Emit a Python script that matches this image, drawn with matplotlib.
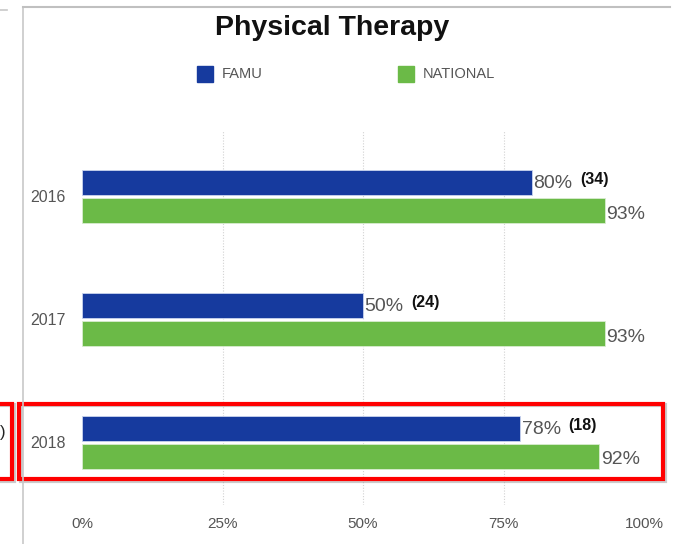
import numpy as np
import matplotlib
matplotlib.use("Agg")
import matplotlib.pyplot as plt
from matplotlib.patches import Rectangle
from matplotlib.lines import Line2D

years = ["2016", "2017", "2018"]
famu = [80, 50, 78]
famu_n = [34, 24, 18]
national = [93, 93, 92]
series = ["FAMU", "NATIONAL"]
xticks = [0, 25, 50, 75, 100]

BLUE = "#163a9e"
GREEN = "#6bba47"
GRAY = "#555555"

W, H = 679, 544
plt.rcParams['font.family'] = ['Liberation Sans', 'DejaVu Sans']
fig = plt.figure(figsize=(W / 100, H / 100), dpi=100)

def fx(px):
    return px / W

def fy(py):
    return 1 - py / H

# axes placed in pixel coords of the reference
ax = fig.add_axes([fx(82), fy(505), fx(644) - fx(82), fy(130) - fy(505)])

y = np.arange(len(years))
h = 0.203
off = 0.114
ax.barh(y - off, famu, height=h, color=BLUE, edgecolor="#c9d3ee", linewidth=0.6, zorder=3)
ax.barh(y + off, national, height=h, color=GREEN, edgecolor="#d8ecd0", linewidth=0.6, zorder=3)

for i in range(len(years)):
    ax.text(famu[i] + 0.3, y[i] - off + 0.01, f"{famu[i]}%", va="center", ha="left",
            fontsize=14, color=GRAY)
    ax.text(famu[i] + 8.6, y[i] - off - 0.02, f"({famu_n[i]})", va="center", ha="left",
            fontsize=11.5, fontweight="bold", color="#111111")
    ax.text(national[i] + 0.3, y[i] + off + 0.03, f"{national[i]}%", va="center", ha="left",
            fontsize=14, color=GRAY)

ax.set_xlim(0, 100)
ax.set_ylim(2.51, -0.54)
ax.vlines([25, 50, 75], 2.51, -0.54, colors="#d2d2d2", linestyles=(0, (1, 1.5)), linewidth=0.8, zorder=1)
ax.set_xticks(xticks)
ax.set_xticklabels([f"{t}%" for t in xticks])
ax.set_yticks(y)
ax.set_yticklabels(years)
ax.tick_params(axis="x", length=0, pad=9, labelsize=11, labelcolor=GRAY)
ax.tick_params(axis="y", length=0, pad=12, labelsize=11.5, labelcolor=GRAY)
for s in ax.spines.values():
    s.set_visible(False)

# title and legend
fig.text(fx(332), fy(28), "Physical Therapy", ha="center", va="center",
         fontsize=20.5, fontweight="bold", color="#111111")
for x0, name, col in [(197, series[0], BLUE), (398, series[1], GREEN)]:
    fig.patches.append(Rectangle((fx(x0), fy(82)), fx(16), 16 / H, color=col,
                                 transform=fig.transFigure, figure=fig))
    fig.text(fx(x0 + 25), fy(74), name, ha="left", va="center", fontsize=10.5, color=GRAY)

# screenshot frame lines
fig.lines.append(Line2D([fx(23), fx(23)], [fy(7), 0], color="#c8c8c8", lw=1.2,
                        transform=fig.transFigure, figure=fig))
fig.lines.append(Line2D([fx(23), fx(670)], [fy(7), fy(7)], color="#c0c0c0", lw=1.5,
                        transform=fig.transFigure, figure=fig))
fig.lines.append(Line2D([0, fx(7)], [fy(10), fy(10)], color="#c8c8c8", lw=1.2,
                        transform=fig.transFigure, figure=fig))

# red highlight boxes with a soft shadow
for (x0, x1) in [(19, 663), (-20, 12)]:
    fig.patches.append(Rectangle((fx(x0 + 2), fy(481)), fx(x1 - x0), (481 - 405) / H,
                                 fill=False, edgecolor="#999999", lw=3, alpha=0.5,
                                 transform=fig.transFigure, figure=fig))
    fig.patches.append(Rectangle((fx(x0), fy(479)), fx(x1 - x0), (479 - 404) / H,
                                 fill=False, edgecolor="#ff0000", lw=3,
                                 transform=fig.transFigure, figure=fig))
fig.text(fx(0), fy(432), ")", ha="left", va="center", fontsize=12, color="#222222")

fig.savefig("out.png", dpi=100)
